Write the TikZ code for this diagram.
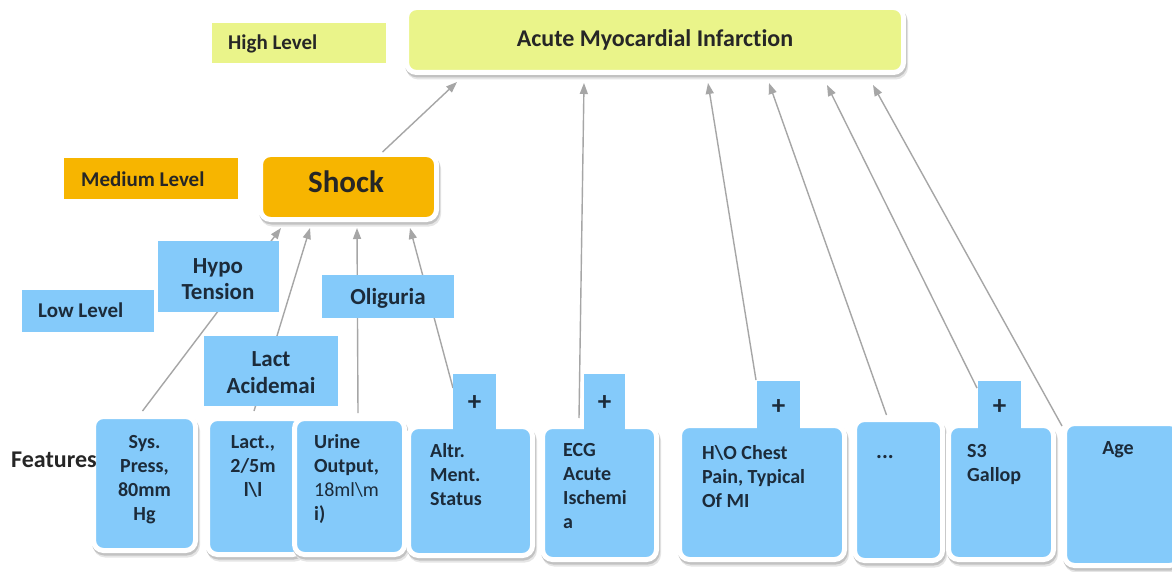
\documentclass[tikz,border=0pt]{standalone}
\usepackage{fontspec}
\setmainfont[Ligatures=NoCommon]{Carlito}
\usetikzlibrary{arrows.meta,calc}
\definecolor{ylw}{HTML}{EAF48A}
\definecolor{org}{HTML}{F7B500}
\definecolor{blu}{HTML}{84CAFA}
\definecolor{agray}{HTML}{A6A6A6}
\definecolor{dtxt}{HTML}{262626}
\definecolor{btxt}{HTML}{1C2B3A}
\newcommand\myfs[2]{\fontsize{#1}{#2}\selectfont}
\newcommand\myst[1]{\rule{0pt}{#1pt}}
\begin{document}
\begin{tikzpicture}[x=1pt,y=-1pt,
  shad/.style={preaction={draw=black!10,fill=black!10,line width=5pt,transform canvas={xshift=2pt,yshift=-4.5pt}},
               preaction={draw=black!24,fill=black!24,line width=5pt,transform canvas={xshift=1pt,yshift=-2.5pt}}},
  wbox/.style={shad, draw=white, line width=5pt, rounded corners=10pt, inner sep=0pt},
  fbox/.style={wbox, fill=blu},
  lbl/.style={inner sep=0pt},
  tab/.style={fill=blu, inner sep=0pt, text=btxt, font=\myfs{27}{28}\bfseries},
  ltxt/.style={inner sep=0pt, font=\myfs{21}{24}\bfseries, text=dtxt},
  btx/.style={inner sep=0pt, font=\myfs{23}{26}\bfseries, text=btxt},
  ftxt/.style={inner sep=0pt, font=\myfs{20}{24}\bfseries, text=btxt},
  arr/.style={draw=agray, line width=1.4pt, -{Triangle[length=11pt,width=8pt]}},
]
\useasboundingbox (0,0) rectangle (1172,572);
\fill[white] (0,0) rectangle (1172,572);

% main boxes
\node[wbox, fill=ylw, minimum width=497, minimum height=65] (ami) at (655,40) {};
\node[wbox, fill=org, minimum width=176, minimum height=65] (shock) at (348.5,187) {};
\node[fbox, minimum width=102, minimum height=134] (sys) at (144.5,483.5) {};
\node[fbox, minimum width=95, minimum height=136] (lact) at (255,486.5) {};
\node[fbox, minimum width=110, minimum height=136] (urine) at (349.5,486.5) {};
\node[fbox, minimum width=124, minimum height=129] (altr) at (470.5,491) {};
\node[fbox, minimum width=114, minimum height=133] (ecg) at (599.5,493) {};
\node[fbox, minimum width=165, minimum height=134] (ho) at (762,492.5) {};
\node[fbox, minimum width=88, minimum height=141] (dots) at (898.5,490) {};
\node[fbox, minimum width=105, minimum height=134] (sthree) at (1001,492.5) {};
\node[fbox, minimum width=115, minimum height=142] (age) at (1122,494.5) {};

% connectors
\draw[arr] ($(shock.north)+(34,0)$) -- ($(ami.south west)+(53,7)$);
\draw[arr] ($(sys.north)+(-2,-3)$) -- ($(shock.south west)+(23,6)$);
\draw[arr] ($(lact.north)+(-1,-5)$) -- ($(shock.south west)+(52,6)$);
\draw[arr] ($(urine.north)+(8.5,-3)$) -- ($(shock.south west)+(99,6)$);
\draw[arr] ($(altr.north west)+(47,-36)$) -- ($(shock.south west)+(152,6)$);
\draw[arr] ($(ecg.north)+(-20.5,-6)$) -- ($(ami.south west)+(180,8)$);
\draw[arr] ($(ho.north west)+(79,-43)$) -- ($(ami.south west)+(304,8)$);
\draw[arr] ($(dots.north)+(-12,-2)$) -- ($(ami.south west)+(365,8)$);
\draw[arr] ($(sthree.north west)+(31,-35)$) -- ($(ami.south west)+(423,10)$);
\draw[arr] ($(age.north west)+(0,5)$) -- ($(ami.south west)+(469,10)$);

% tabs
\node[tab, minimum width=43, minimum height=59] (altrtab) at (474.5,403.5) {+};
\node[tab, minimum width=41, minimum height=59] (ecgtab) at (604.5,403.5) {+};
\node[tab, minimum width=43, minimum height=53] (hotab) at (778.5,407.5) {+};
\node[tab, minimum width=43, minimum height=53] (sthreetab) at (999.5,407.5) {+};

% level labels
\node[lbl, fill=ylw, minimum width=174, minimum height=40] (high) at (299,43) {};
\node[lbl, fill=org, minimum width=174, minimum height=41] (medium) at (151,178.5) {};
\node[lbl, fill=blu, minimum width=132, minimum height=42] (low) at (88,311) {};
\node[lbl, fill=blu, minimum width=121, minimum height=71] (hypo) at (218.5,276.5) {};
\node[lbl, fill=blu, minimum width=132, minimum height=43] (olig) at (388,296.5) {};
\node[lbl, fill=blu, minimum width=134, minimum height=70] (lactac) at (271,371) {};

% texts
\node[ltxt, anchor=base west] (hightxt) at (228,50) {High Level};
\node[ltxt, anchor=base west] (medtxt) at (81,187) {Medium Level};
\node[ltxt, anchor=base west, text=btxt] (lowtxt) at (38,317) {Low Level};
\node[btx, anchor=north, align=center] (hypotxt) at (218,255) {\myst{18}Hypo\\Tension};
\node[btx, anchor=base] (oligtxt) at (388,304) {Oliguria};
\node[btx, anchor=north, align=center, font=\myfs{23}{27}\bfseries] (lactactxt) at (271,348) {\myst{18}Lact\\Acidemai};
\node[inner sep=0pt, anchor=base, font=\myfs{24}{28}\bfseries, text=dtxt] (amitxt) at (655,47) {Acute Myocardial Infarction};
\node[inner sep=0pt, anchor=base, font=\myfs{31}{36}\bfseries, text=dtxt] (shocktxt) at (346,193) {Shock};
\node[inner sep=0pt, anchor=base west, font=\myfs{24}{28}\bfseries, text=dtxt] (feattxt) at (11,467) {Features};

\node[ftxt, anchor=north, align=center] (systxt) at (144.5,432) {\myst{16}Sys.\\Press,\\80mm\\Hg};
\node[ftxt, anchor=north, align=center] (lacttxt) at (253,432) {\myst{16}Lact.,\\2/5m\\l\textbackslash l};
\node[ftxt, anchor=north west, align=left] (urinetxt) at (314,432) {\myst{16}Urine\\Output,\\{\mdseries 18ml\textbackslash m}\\i)};
\node[ftxt, anchor=north west, align=left] (altrtxt) at (430,441) {\myst{16}Altr.\\Ment.\\Status};
\node[ftxt, anchor=north west, align=left] (ecgtxt) at (563,440) {\myst{16}ECG\\Acute\\Ischemi\\a};
\node[ftxt, anchor=north west, align=left] (hotxt) at (702,443) {\myst{16}H\textbackslash O Chest\\Pain, Typical\\Of MI};
\node[ftxt, anchor=base, font=\myfs{22}{24}\bfseries] (dotstxt) at (885,458) {...};
\node[ftxt, anchor=north west, align=left] (sthreetxt) at (967,441) {\myst{16}S3\\Gallop};
\node[ftxt, anchor=base] (agetxt) at (1118,454) {Age};
\end{tikzpicture}
\end{document}
